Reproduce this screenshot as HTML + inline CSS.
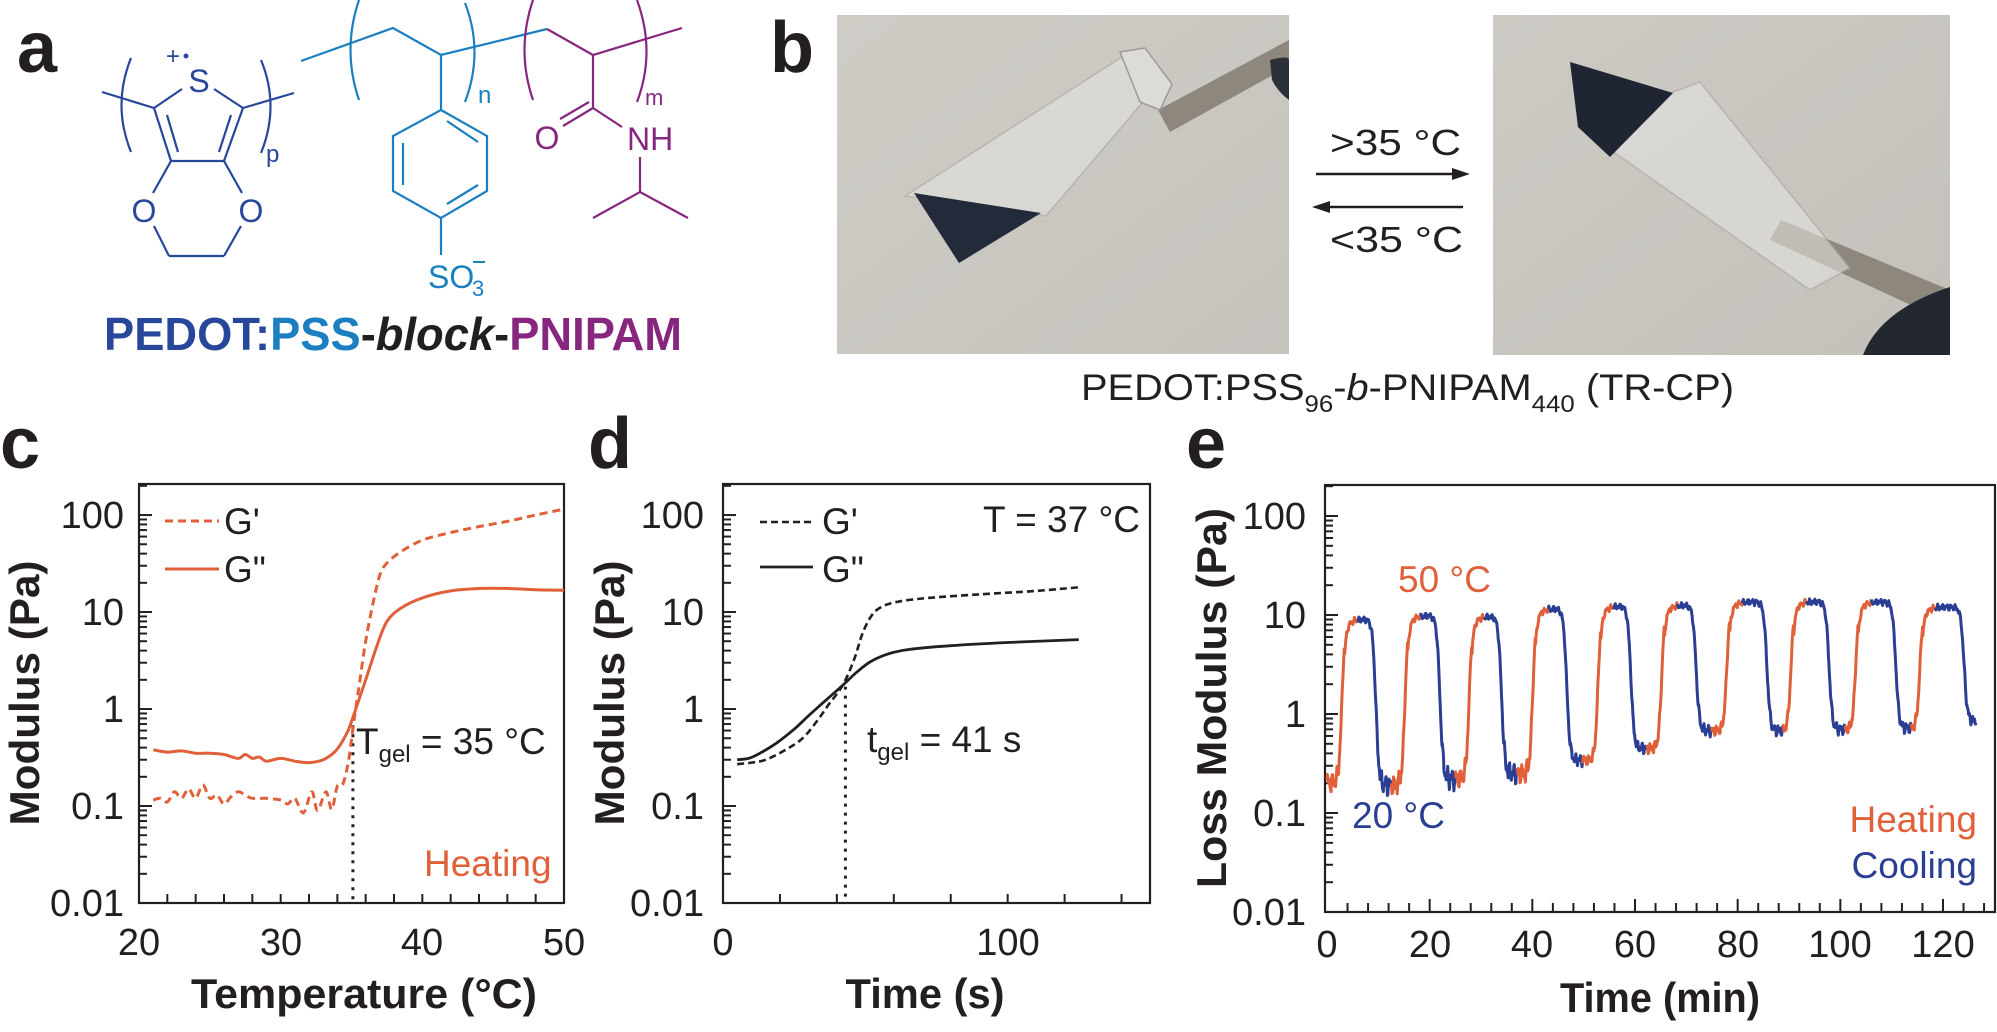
<!DOCTYPE html>
<html><head><meta charset="utf-8">
<style>
html,body{margin:0;padding:0;background:#fff;}
svg{display:block;font-family:"Liberation Sans",Arial,sans-serif;}
</style></head>
<body>
<svg id="s" width="1997" height="1032" viewBox="0 0 1997 1032" xmlns="http://www.w3.org/2000/svg">
<rect width="1997" height="1032" fill="#fff"/>

<!-- ===== Panel a ===== -->
<text x="17" y="72" font-size="72" font-weight="bold" fill="#231f20">a</text>
<g fill="none" stroke="#27479b" stroke-width="2.2">
  <line x1="182" y1="89" x2="154" y2="108"/><line x1="214" y1="89" x2="243" y2="108"/>
  <line x1="154" y1="108" x2="171" y2="161"/><line x1="243" y1="108" x2="224" y2="161"/>
  <line x1="167" y1="115" x2="178" y2="152"/><line x1="231" y1="115" x2="219" y2="152"/>
  <line x1="171" y1="161" x2="224" y2="161"/>
  <line x1="171" y1="161" x2="153" y2="193"/><line x1="224" y1="161" x2="242" y2="193"/>
  <line x1="154" y1="226" x2="169" y2="256"/><line x1="241" y1="226" x2="224" y2="256"/>
  <line x1="169" y1="256" x2="224" y2="256"/>
  <line x1="154" y1="108" x2="102" y2="92"/><line x1="243" y1="108" x2="294" y2="93"/>
  <path d="M131 58 Q112 105 131 152"/><path d="M261 60 Q280 106 261 153"/>
</g>
<g fill="#27479b" font-size="32">
  <text x="199" y="92" text-anchor="middle">S</text>
  <text x="144" y="222" text-anchor="middle">O</text>
  <text x="251" y="222" text-anchor="middle">O</text>
  <text x="166" y="64" font-size="24">+</text>
  <circle cx="186" cy="56" r="2.5"/>
  <text x="266" y="162" font-size="24">p</text>
</g>
<g fill="none" stroke="#1b7fc1" stroke-width="2.2">
  <polyline points="301,61 393,28 441,55 547,29"/>
  <line x1="441" y1="55" x2="441" y2="110"/>
  <polygon points="441,110 487,136 487,191 441,218 393,191 393,136"/>
  <line x1="447" y1="121" x2="478" y2="142"/><line x1="478" y1="185" x2="447" y2="204"/>
  <line x1="403" y1="143" x2="403" y2="185"/>
  <line x1="441" y1="218" x2="441" y2="255"/>
  <path d="M359 0 Q342 50 359 100"/><path d="M465 3 Q484 52 465 102"/>
</g>
<g fill="#1b7fc1">
  <text x="478" y="103" font-size="24">n</text>
  <text x="428" y="288" font-size="32">SO</text>
  <text x="472" y="296" font-size="22">3</text>
  <rect x="473" y="261" width="12" height="2"/>
</g>
<g fill="none" stroke="#87267f" stroke-width="2.2">
  <polyline points="547,29 593,55 682,28"/>
  <line x1="593" y1="55" x2="593" y2="108"/>
  <line x1="593" y1="108" x2="563" y2="126"/><line x1="589" y1="102" x2="560" y2="119"/>
  <line x1="593" y1="108" x2="622" y2="127"/>
  <line x1="640" y1="157" x2="640" y2="192"/>
  <polyline points="593,218 640,192 688,218"/>
  <path d="M533 0 Q516 50 533 100"/><path d="M637 0 Q656 52 637 102"/>
</g>
<g fill="#87267f">
  <text x="547" y="149" font-size="32" text-anchor="middle">O</text>
  <text x="627" y="150" font-size="32">NH</text>
  <text x="645" y="105" font-size="22">m</text>
</g>
<text x="104" y="350" font-size="46" font-weight="bold" textLength="578" lengthAdjust="spacingAndGlyphs"><tspan fill="#27479b">PEDOT:</tspan><tspan fill="#1b7fc1">PSS</tspan><tspan fill="#231f20">-</tspan><tspan fill="#231f20" font-style="italic">block</tspan><tspan fill="#231f20">-</tspan><tspan fill="#87267f">PNIPAM</tspan></text>

<!-- ===== Panel b ===== -->
<text x="770" y="72" font-size="72" font-weight="bold" fill="#231f20">b</text>
<defs>
  <linearGradient id="bg1" x1="0" y1="0" x2="1" y2="1"><stop offset="0" stop-color="#cfccc6"/><stop offset="1" stop-color="#c6c3bd"/></linearGradient>
  <linearGradient id="bg2" x1="0" y1="0" x2="1" y2="1"><stop offset="0" stop-color="#cdcac4"/><stop offset="1" stop-color="#c4c1bb"/></linearGradient>
</defs>
<rect x="837" y="15" width="452" height="339" fill="url(#bg1)"/>
<polygon points="1158,110 1289,40 1289,66 1170,132" fill="#8d877d"/>
<path d="M1270 60 Q1289 55 1289 60 L1289 100 Q1278 92 1272 80Z" fill="#2c3039"/>
<polygon points="905,196 1125,55 1160,82 1046,216" fill="#e3e2df" opacity="0.6" stroke="#a9a8a5" stroke-width="1.5"/>
<polygon points="1120,52 1145,48 1172,84 1160,110 1140,102" fill="#dcdbd8" stroke="#9c9b98" stroke-width="1.5"/>
<polygon points="914,193 1041,213 959,263" fill="#232a3a"/>
<rect x="1493" y="15" width="457" height="340" fill="url(#bg2)"/>
<polygon points="1781,220 1950,290 1950,323 1770,240" fill="#8d877d"/>
<path d="M1863 355 Q1880 310 1950 287 L1950 355Z" fill="#23272f"/>
<polygon points="1578,127 1700,82 1850,268 1810,290" fill="#e3e2df" opacity="0.6" stroke="#a9a8a5" stroke-width="1.5"/>
<polygon points="1570,62 1673,93 1610,157 1578,127" fill="#1f2533"/>
<text x="1330" y="155" font-size="36" fill="#231f20" textLength="131" lengthAdjust="spacingAndGlyphs">&gt;35 °C</text>
<line x1="1316" y1="174" x2="1460" y2="174" stroke="#231f20" stroke-width="2.5"/>
<polygon points="1470,174 1452,168 1452,180" fill="#231f20"/>
<line x1="1322" y1="207" x2="1463" y2="207" stroke="#231f20" stroke-width="2.5"/>
<polygon points="1312,207 1330,201 1330,213" fill="#231f20"/>
<text x="1330" y="252" font-size="36" fill="#231f20" textLength="133" lengthAdjust="spacingAndGlyphs">&lt;35 °C</text>
<text x="1081" y="400" font-size="37" fill="#231f20" textLength="653" lengthAdjust="spacingAndGlyphs">PEDOT:PSS<tspan font-size="24" dy="12">96</tspan><tspan dy="-12">-</tspan><tspan font-style="italic">b</tspan>-PNIPAM<tspan font-size="24" dy="12">440</tspan><tspan dy="-12"> (TR-CP)</tspan></text>

<!-- ===== Panel letters ===== -->
<text x="0" y="468" font-size="72" font-weight="bold" fill="#231f20">c</text>
<text x="588" y="468" font-size="72" font-weight="bold" fill="#231f20">d</text>
<text x="1186" y="468" font-size="72" font-weight="bold" fill="#231f20">e</text>

<g id="plots"></g>

<g font-size="38" fill="#231f20">
  <g text-anchor="end">
    <text x="124" y="528">100</text><text x="124" y="625">10</text><text x="124" y="722">1</text>
    <text x="124" y="819">0.1</text><text x="124" y="916">0.01</text>
  </g>
  <g text-anchor="middle">
    <text x="139" y="955">20</text><text x="281" y="955">30</text><text x="422" y="955">40</text><text x="564" y="955">50</text>
  </g>
  <text x="224" y="534" font-size="37">G'</text>
  <text x="224" y="582" font-size="37">G"</text>
  <text x="356" y="754" font-size="37">T<tspan font-size="24" dy="8">gel</tspan><tspan dy="-8"> = 35 °C</tspan></text>
  <text x="424" y="876" font-size="37" fill="#e0603a">Heating</text>
</g>
<text x="364" y="1008" font-size="42" font-weight="bold" text-anchor="middle" textLength="346" lengthAdjust="spacingAndGlyphs" fill="#231f20">Temperature (°C)</text>
<text transform="translate(39,693) rotate(-90)" font-size="42" font-weight="bold" text-anchor="middle" textLength="265" lengthAdjust="spacingAndGlyphs" fill="#231f20">Modulus (Pa)</text>

<g font-size="38" fill="#231f20">
  <g text-anchor="end">
    <text x="704" y="528">100</text><text x="704" y="625">10</text><text x="704" y="722">1</text>
    <text x="704" y="819">0.1</text><text x="704" y="916">0.01</text>
  </g>
  <g text-anchor="middle"><text x="723" y="955">0</text><text x="1008" y="955">100</text></g>
  <text x="822" y="534" font-size="37">G'</text>
  <text x="822" y="582" font-size="37">G"</text>
  <text x="1140" y="532" font-size="37" text-anchor="end">T = 37 °C</text>
  <text x="867" y="752" font-size="37">t<tspan font-size="24" dy="8">gel</tspan><tspan dy="-8"> = 41 s</tspan></text>
</g>
<text x="925" y="1008" font-size="42" font-weight="bold" text-anchor="middle" textLength="159" lengthAdjust="spacingAndGlyphs" fill="#231f20">Time (s)</text>
<text transform="translate(624,693) rotate(-90)" font-size="42" font-weight="bold" text-anchor="middle" textLength="265" lengthAdjust="spacingAndGlyphs" fill="#231f20">Modulus (Pa)</text>

<g font-size="38" fill="#231f20">
  <g text-anchor="end">
    <text x="1306" y="529">100</text><text x="1306" y="628">10</text><text x="1306" y="727">1</text>
    <text x="1306" y="826">0.1</text><text x="1306" y="925">0.01</text>
  </g>
  <g text-anchor="middle">
    <text x="1327" y="957">0</text><text x="1430" y="957">20</text><text x="1532" y="957">40</text><text x="1635" y="957">60</text>
    <text x="1738" y="957">80</text><text x="1840" y="957">100</text><text x="1943" y="957">120</text>
  </g>
  <text x="1398" y="592" font-size="37" fill="#e0603a">50 °C</text>
  <text x="1352" y="828" font-size="37" fill="#2a3f93">20 °C</text>
  <text x="1977" y="832" font-size="37" fill="#e0603a" text-anchor="end">Heating</text>
  <text x="1977" y="878" font-size="37" fill="#2a3f93" text-anchor="end">Cooling</text>
</g>
<text x="1660" y="1012" font-size="42" font-weight="bold" text-anchor="middle" textLength="200" lengthAdjust="spacingAndGlyphs" fill="#231f20">Time (min)</text>
<text transform="translate(1226,698) rotate(-90)" font-size="42" font-weight="bold" text-anchor="middle" textLength="380" lengthAdjust="spacingAndGlyphs" fill="#231f20">Loss Modulus (Pa)</text>
</svg>

<script>
(function(){
var NS="http://www.w3.org/2000/svg";
var G=document.getElementById("plots");
function el(t,a){var e=document.createElementNS(NS,t);for(var k in a)e.setAttribute(k,a[k]);G.appendChild(e);return e;}
function axes(L,R,T,B,lgTop,xt,xtMajor){
  el("rect",{x:L,y:T,width:R-L,height:B-T,fill:"none",stroke:"#231f20","stroke-width":2.2});
  var dec=(B-T)/(lgTop+2);
  for(var d=-2;d<=2;d++)for(var k=1;k<=9;k++){
    var lg=d+Math.log10(k); if(lg>lgTop)continue;
    var y=B-(lg+2)*dec; var len=(k==1)?13:8;
    if(k==1&&d==-2)continue;
    el("line",{x1:L,y1:y,x2:L+len,y2:y,stroke:"#231f20","stroke-width":2});
  }
  xt.forEach(function(x,i){var len=(xtMajor&&xtMajor(i))?13:9;el("line",{x1:x,y1:B,x2:x,y2:B-len,stroke:"#231f20","stroke-width":2});});
  return dec;
}
function cr(pts){
  var d="M"+pts[0][0].toFixed(1)+" "+pts[0][1].toFixed(1);
  for(var i=0;i<pts.length-1;i++){
    var p0=pts[i-1]||pts[i],p1=pts[i],p2=pts[i+1],p3=pts[i+2]||p2;
    var c1x=p1[0]+(p2[0]-p0[0])/6,c1y=p1[1]+(p2[1]-p0[1])/6;
    var c2x=p2[0]-(p3[0]-p1[0])/6,c2y=p2[1]-(p3[1]-p1[1])/6;
    d+=" C"+c1x.toFixed(1)+" "+c1y.toFixed(1)+" "+c2x.toFixed(1)+" "+c2y.toFixed(1)+" "+p2[0].toFixed(1)+" "+p2[1].toFixed(1);
  }
  return d;
}
var cL=139,cR=564,cT=484,cB=903,cLg=2.32;
var xt=[];for(var t=20;t<=50;t+=2)xt.push(cL+(t-20)*(cR-cL)/30);
var dec=axes(cL,cR,cT,cB,cLg,xt);
function cx(t){return cL+(t-20)*(cR-cL)/30;} function cy(v){return cB-(Math.log10(v)+2)*dec;}
var Gp=[[21,0.115],[21.5,0.12],[22,0.11],[22.5,0.14],[23,0.12],[23.5,0.15],[24,0.12],[24.5,0.165],[25,0.12],[25.5,0.13],[26,0.105],[26.5,0.125],[27,0.14],[27.5,0.13],[28,0.12],[29,0.12],[30,0.115],[30.5,0.105],[31,0.12],[31.6,0.085],[32.2,0.14],[32.6,0.09],[33.2,0.14],[33.6,0.092],[34,0.16],[34.4,0.17],[34.8,0.3],[35.2,0.8],[35.6,2],[36,5],[36.5,12],[37,24],[37.5,32],[38.5,42],[40,55],[42,66],[44,76],[46,86],[48,100],[50,115]];
var Gpp=[[21,0.38],[22,0.36],[23,0.37],[24,0.35],[25,0.35],[26,0.34],[27,0.31],[27.5,0.34],[28,0.31],[28.5,0.32],[29,0.29],[30,0.31],[31,0.29],[32,0.28],[33,0.3],[33.8,0.36],[34.3,0.45],[34.8,0.62],[35.3,1],[36,2],[36.8,4.5],[37.5,8],[38.5,11],[40,14],[42,16.5],[44,17.5],[46,17.5],[48,17],[50,16.8]];
el("line",{x1:cx(35.1),y1:cy(0.68),x2:cx(35.1),y2:cB,stroke:"#231f20","stroke-width":3,"stroke-dasharray":"3 6"});
el("path",{d:cr(Gp.map(function(p){return[cx(p[0]),cy(p[1])]})),fill:"none",stroke:"#e0603a","stroke-width":3,"stroke-dasharray":"8 5"});
el("path",{d:cr(Gpp.map(function(p){return[cx(p[0]),cy(p[1])]})),fill:"none",stroke:"#e0603a","stroke-width":3});
el("line",{x1:165,y1:521,x2:219,y2:521,stroke:"#e0603a","stroke-width":3,"stroke-dasharray":"8 5"});
el("line",{x1:165,y1:569,x2:219,y2:569,stroke:"#e0603a","stroke-width":3});
var dL=723,dR=1150;
xt=[];for(var t=0;t<=150;t+=20)xt.push(dL+t*(dR-dL)/150);
axes(dL,dR,cT,cB,cLg,xt);
function dx(t){return dL+t*(dR-dL)/150;}
var Dp=[[5,0.27],[10,0.28],[15,0.3],[22,0.38],[28,0.5],[33,0.75],[37,1.1],[42,1.75],[46,3.2],[49,6],[52,9],[55,11],[60,12.5],[70,13.8],[90,15.2],[110,16.5],[125,18]];
var Dpp=[[5,0.3],[9,0.31],[13,0.35],[19,0.45],[25,0.62],[30,0.85],[35,1.15],[42,1.75],[47,2.4],[52,3.1],[58,3.7],[65,4.1],[80,4.5],[100,4.85],[125,5.2]];
el("line",{x1:dx(43),y1:cy(1.7),x2:dx(43),y2:cB,stroke:"#231f20","stroke-width":3,"stroke-dasharray":"3 6"});
el("path",{d:cr(Dp.map(function(p){return[dx(p[0]),cy(p[1])]})),fill:"none",stroke:"#231f20","stroke-width":2.6,"stroke-dasharray":"7 4"});
el("path",{d:cr(Dpp.map(function(p){return[dx(p[0]),cy(p[1])]})),fill:"none",stroke:"#231f20","stroke-width":2.8});
el("line",{x1:760,y1:522,x2:813,y2:522,stroke:"#231f20","stroke-width":2.6,"stroke-dasharray":"7 4"});
el("line",{x1:760,y1:567,x2:813,y2:567,stroke:"#231f20","stroke-width":2.8});
var eL=1325,eR=1995,eT=485,eB=912,eLg=(912-485)/99-2;
var ex0=1327,eppm=(1943-1327)/120;
function ex(t){return ex0+t*eppm;}
xt=[];for(var t=4;t<=128;t+=4)xt.push(ex(t));
var edec=axes(eL,eR,eT,eB,eLg,xt,function(i){return ((i+1)*4)%20==0;});
function ey(lg){return eB-(lg+2)*edec;}
var r=[2.9,15.2,27.7,40.1,52.8,65.2,77.9,90.4,103,115.5];
var f=[9.5,22,34,46.7,59.2,71.9,85.7,97.8,110.8,124.1];
var hi=[9,9.8,9.6,11.5,12.2,12.5,13.5,13.6,13.5,12];
var lo=[0.2,0.19,0.22,0.25,0.34,0.45,0.68,0.68,0.7,0.72,0.85];
function sig(x){return 1/(1+Math.exp(-x));}
function noise(t){return 0.035*Math.sin(t*7.3)+0.025*Math.sin(t*13.1+1)+0.015*Math.sin(t*29.7);}
function val(t){
  var i=0; while(i<10 && t>(r[i]+f[i])/2) i++;
  var lg;
  var Lo=Math.log10(lo[i]);
  if(i==0){ lg=Lo+(Math.log10(hi[0])-Lo)*sig((t-r[0])/0.3); }
  else{
    var Hp=Math.log10(hi[i-1]);
    lg=Hp+(Lo-Hp)*sig((t-f[i-1])/0.32);
    if(i<10) lg+=(Math.log10(hi[i])-Lo)*sig((t-r[i])/0.3);
  }
  for(var k=0;k<10;k++){ var dt=t-r[k]; if(dt>0.5&&dt<4) lg-=0.12*Math.exp(-(dt-0.6)*1.2)*sig((f[k]-t)); }
  var lowness=1-Math.min(1,Math.max(0,(lg-Lo)/1.0));
  lg+=noise(t)*(0.5+lowness*(t<45?1.2:0.4));
  return lg;
}
var segs=[],cur=null;
function colorAt(t){
  for(var k=0;k<10;k++){ if(t>=r[k]+3 && t<f[k]+3) return "#2a3f93"; }
  return "#e0603a";
}
for(var t=0;t<=126.4;t+=0.08){
  var c=colorAt(t), p=[ex(t),ey(val(t))];
  if(!cur||cur.c!=c){ if(cur)cur.pts.push(p); cur={c:c,pts:[]}; segs.push(cur);}
  cur.pts.push(p);
}
segs.forEach(function(s){
  var d="M"+s.pts.map(function(p){return p[0].toFixed(1)+" "+p[1].toFixed(1)}).join(" L");
  el("path",{d:d,fill:"none",stroke:s.c,"stroke-width":3,"stroke-linejoin":"round"});
});
})();
</script>
</body></html>
